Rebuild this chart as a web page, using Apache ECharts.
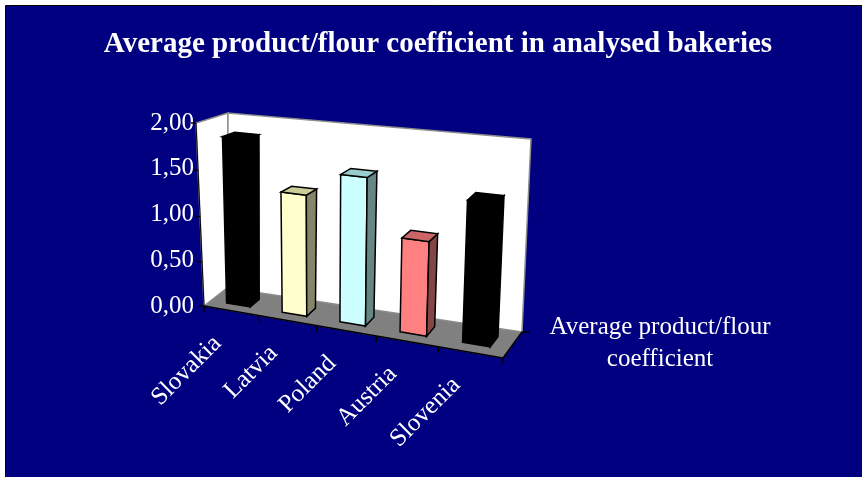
<!DOCTYPE html>
<html>
<head>
<meta charset="utf-8">
<script src="https://cdn.jsdelivr.net/npm/echarts/dist/echarts.min.js"></script>
<style>
  html, body { margin: 0; padding: 0; background: #fff; }
  #main { width: 862px; height: 477px; }
</style>
</head>
<body>
<div id="main"></div>
<script>
// 图表数据
const countries = ['Slovakia', 'Latvia', 'Poland', 'Austria', 'Slovenia']
const coefficients = [1.84, 1.32, 1.58, 1.00, 1.47]
const yTicks = [0, 0.5, 1, 1.5, 2]
const seriesName = 'Average product/flour\ncoefficient'

// 柱子颜色: 正面, 顶面, 侧面
const barColors = [
  ['#000000', '#000000', '#000000'],
  ['#FFFFCC', '#CCCC99', '#85856A'],
  ['#CCFFFF', '#99CCCC', '#668585'],
  ['#FF8080', '#CC6666', '#854545'],
  ['#000000', '#000000', '#000000']
]

// 3D 盒子的八个角 (u 类目方向, v 数值方向, w 深度方向) -> 屏幕坐标 + 透视深度权重
const box = {
  '000': [204, 306, 1.022],
  '010': [196, 123, 0.978],
  '001': [227, 288, 1.069],
  '011': [228, 113, 1.023],
  '100': [503, 358, 0.926],
  '110': [512, 157, 0.886],
  '101': [522, 332, 0.969],
  '111': [531, 139, 0.927]
}
const barDepth = [0.3, 0.7] // 柱子在深度方向的位置
const barRatio = 0.43 // 柱宽 / 类目宽
const font = 'Liberation Serif'

// 透视投影 (有理三线性插值)
function project (u, v, w) {
  let sx = 0
  let sy = 0
  let sz = 0
  for (const key in box) {
    const [a, b, c] = key.split('').map(Number)
    const k = (a ? u : 1 - u) * (b ? v : 1 - v) * (c ? w : 1 - w) * box[key][2]
    sx += k * box[key][0]
    sy += k * box[key][1]
    sz += k
  }
  return [sx / sz, sy / sz]
}

function poly (points, fill, stroke, lw) {
  return {
    type: 'polygon',
    shape: { points },
    style: { fill, stroke, lineWidth: lw }
  }
}

function line (p, q, stroke, lw) {
  return {
    type: 'line',
    shape: { x1: p[0], y1: p[1], x2: q[0], y2: q[1] },
    style: { stroke, lineWidth: lw }
  }
}

const chart = echarts.init(document.getElementById('main'))

// 墙面, 地板, 坐标轴刻度
function renderFrame (params, api) {
  const rect = params.coordSys
  const P = project
  const children = [
    // 地板
    poly([P(0, 0, 0), P(0, 0, 1), P(1, 0, 1), P(1, 0, 0)], '#808080', '#808080', 1),
    // 左墙
    poly([P(0, 0, 0), P(0, 1, 0), P(0, 1, 1), P(0, 0, 1)], '#FFFFFF', '#8C8C8C', 1.5),
    // 后墙
    poly([P(0, 0, 1), P(0, 1, 1), P(1, 1, 1), P(1, 0, 1)], '#FFFFFF', '#8C8C8C', 1.5),
    // 地板前沿 (类目轴) 与右沿 (系列轴)
    line(P(0, 0, 0), P(1, 0, 0), '#000', 1.5),
    line(P(1, 0, 0), P(1, 0, 1), '#000', 1.5),
    line(P(0, 0, 0), P(0, 1, 0), '#000', 1),
    line(P(1, 0, 1), [P(1, 0, 1)[0] + 8, P(1, 0, 1)[1]], '#000', 1.5)
  ]
  yTicks.forEach(t => {
    const v = (rect.y + rect.height - api.coord([0, t])[1]) / rect.height
    const p = P(0, v, 0)
    children.push(line(p, [p[0] - 5, p[1]], '#000', 1.5))
  })
  for (let k = 0; k <= countries.length; k++) {
    const p = P(k / countries.length, 0, 0)
    children.push(line(p, [p[0], p[1] + 6], '#000', 1.5))
  }
  return { type: 'group', children }
}

// 3D 柱子
function renderBar (params, api) {
  const rect = params.coordSys
  const i = api.value(0)
  const top = api.coord([i, api.value(1)])
  const band = api.size([1, 0])[0]
  const uc = (top[0] - rect.x) / rect.width
  const du = band * barRatio / 2 / rect.width
  const u0 = uc - du
  const u1 = uc + du
  const v = (rect.y + rect.height - top[1]) / rect.height
  const [w0, w1] = barDepth
  const col = barColors[i]
  const P = project
  const edge = '#000'
  const labelAt = P(uc, 0, 0)
  return {
    type: 'group',
    children: [
      poly([P(u0, 0, w0), P(u1, 0, w0), P(u1, v, w0), P(u0, v, w0)], col[0], edge, 1.5),
      poly([P(u1, 0, w0), P(u1, 0, w1), P(u1, v, w1), P(u1, v, w0)], col[2], edge, 1.5),
      poly([P(u0, v, w0), P(u1, v, w0), P(u1, v, w1), P(u0, v, w1)], col[1], edge, 1.5),
      {
        type: 'text',
        x: labelAt[0] - 14,
        y: labelAt[1] + 29,
        rotation: Math.PI / 4,
        style: {
          text: countries[i],
          fill: '#fff',
          font: '25px "' + font + '"',
          align: 'right',
          verticalAlign: 'middle'
        }
      }
    ]
  }
}

const option = {
  animation: false,
  backgroundColor: '#fff',
  graphic: [
    {
      type: 'rect',
      shape: { x: 5.5, y: 5.5, width: 862, height: 477 },
      style: { fill: '#000080', stroke: '#000', lineWidth: 1 },
      z: -10
    },
    {
      type: 'text',
      x: 438,
      y: 45,
      style: {
        text: 'Average product/flour coefficient in analysed bakeries',
        fill: '#fff',
        font: 'bold 29px "' + font + '"',
        align: 'center',
        verticalAlign: 'middle'
      }
    },
    {
      type: 'text',
      x: 660,
      y: 343,
      style: {
        text: seriesName,
        fill: '#fff',
        font: '25px "' + font + '"',
        lineHeight: 32,
        align: 'center',
        verticalAlign: 'middle'
      }
    }
  ],
  grid: {
    left: 204,
    top: 123,
    width: 299,
    height: 183
  },
  xAxis: {
    type: 'category',
    data: countries,
    show: false
  },
  yAxis: {
    type: 'value',
    min: 0,
    max: 2,
    interval: 0.5,
    axisLine: { show: false },
    axisTick: { show: false },
    splitLine: { show: false },
    axisLabel: {
      color: '#fff',
      fontFamily: font,
      fontSize: 25,
      margin: 10,
      formatter: v => v.toFixed(2).replace('.', ',')
    }
  },
  series: [
    {
      type: 'custom',
      z: 1,
      silent: true,
      renderItem: renderFrame,
      data: [[0, 0]]
    },
    {
      type: 'custom',
      z: 2,
      renderItem: renderBar,
      data: coefficients.map((c, i) => [i, c])
    }
  ]
}

chart.setOption(option)
</script>
</body>
</html>
